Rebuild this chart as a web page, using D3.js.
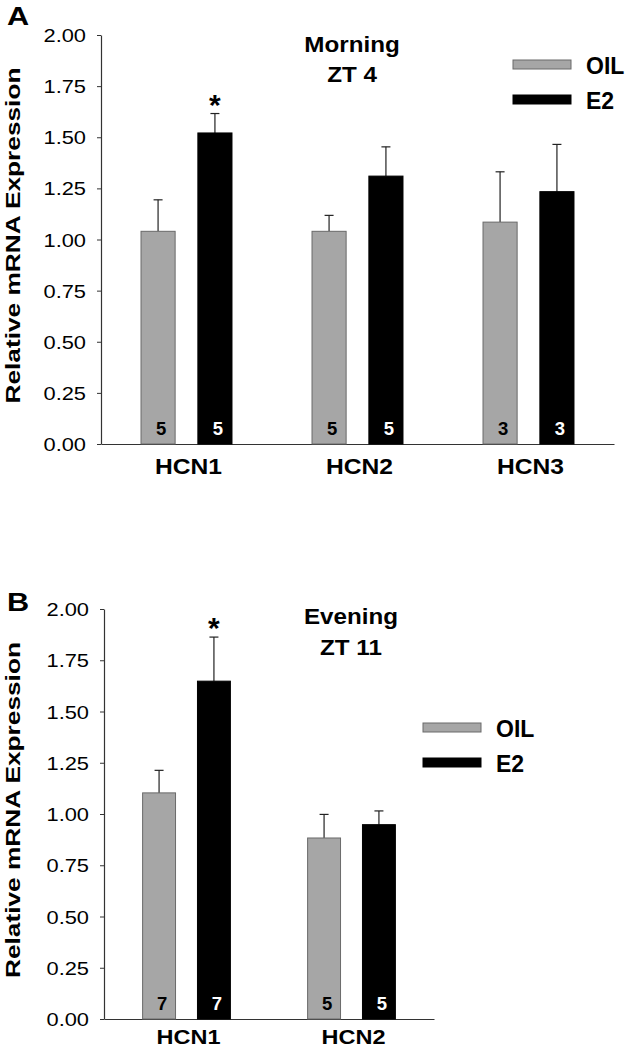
<!DOCTYPE html>
<html><head><meta charset="utf-8">
<script src="https://cdn.jsdelivr.net/npm/d3@7"></script>
<style>body{margin:0;background:#fff}svg{display:block}text{font-family:"Liberation Sans",Arial,sans-serif;fill:#000}</style>
</head><body><svg id="chart" width="628" height="1050"></svg>
<script>
// ---------- data ----------
const series = ["OIL", "E2"];
const yTicks = [0, 0.25, 0.5, 0.75, 1.0, 1.25, 1.5, 1.75, 2.0];

const catsA = ["HCN1", "HCN2", "HCN3"];
const oilA = [1.04, 1.04, 1.085];
const oilErrA = [0.154, 0.078, 0.246];
const e2A = [1.521, 1.31, 1.234];
const e2ErrA = [0.095, 0.143, 0.231];
const nOilA = [5, 5, 3];
const nE2A = [5, 5, 3];
const sigA = ["HCN1"];

const catsB = ["HCN1", "HCN2"];
const oilB = [1.103, 0.883];
const oilErrB = [0.11, 0.115];
const e2B = [1.648, 0.948];
const e2ErrB = [0.215, 0.067];
const nOilB = [7, 5];
const nE2B = [7, 5];
const sigB = ["HCN1"];

const yLabel = "Relative mRNA Expression";

// ---------- drawing ----------
const svg = d3.select("#chart");
const colors = {OIL: "#a6a6a6", E2: "#000000"};
const strokes = {OIL: "#6a6a6a", E2: "#000000"};

function stretchedText(parent, x, y, str, opts) {
  const g = parent.append("g")
    .attr("transform", `translate(${x},${y})` + (opts.rotate ? ` rotate(${opts.rotate})` : "") + ` scale(${opts.sx || 1},1)`);
  return g.append("text").text(str)
    .attr("font-size", opts.size)
    .attr("font-weight", opts.bold ? "bold" : "normal")
    .attr("text-anchor", opts.anchor || "start")
    .style("fill", opts.fill || "#000");
}

function panel(p) {
  const g = svg.append("g");
  const x0 = d3.scaleBand().domain(p.cats).range([p.x0, p.x1]);
  const y = d3.scaleLinear().domain([0, 2]).range([p.yBottom, p.yTop]);
  const bw = x0.bandwidth();
  const x1 = d3.scaleBand().domain(series).range([bw * 0.234, bw * 0.766]).paddingInner(0.4);

  // y axis
  const yAxis = d3.axisLeft(y).tickValues(yTicks).tickSize(4).tickSizeOuter(0).tickFormat(() => "");
  const ya = g.append("g").attr("transform", `translate(${p.x0},0)`).call(yAxis);
  ya.select(".domain").attr("stroke", "#333").attr("stroke-width", 1.2);
  ya.selectAll(".tick line").attr("stroke", "#333");
  yTicks.forEach(t => {
    stretchedText(g, p.x0 - 15, y(t) + 7, d3.format(".2f")(t), {size: 19, sx: 1.15, anchor: "end"});
  });

  // x axis
  const xAxis = d3.axisBottom(x0).tickSize(0).tickSizeOuter(0).tickFormat(() => "");
  const xa = g.append("g").attr("transform", `translate(0,${p.yBottom})`).call(xAxis);
  xa.select(".domain").attr("stroke", "#333").attr("stroke-width", 1.2);
  p.cats.forEach(c => {
    stretchedText(g, x0(c) + bw / 2 + 2, p.yBottom + p.xLabelDy, c, {size: p.xLabelSize, bold: true, sx: 1.12, anchor: "middle"});
  });

  // bars
  const rows = [];
  p.cats.forEach((c, i) => {
    rows.push({cat: c, s: "OIL", v: p.oil[i], e: p.oilErr[i], n: p.nOil[i]});
    rows.push({cat: c, s: "E2", v: p.e2[i], e: p.e2Err[i], n: p.nE2[i]});
  });
  const bx = d => x0(d.cat) + x1(d.s);
  const bwid = x1.bandwidth();

  // error bars
  const eb = g.append("g").attr("stroke", "#222").attr("stroke-width", 1.2);
  rows.forEach(d => {
    const cx = bx(d) + bwid / 2;
    eb.append("line").attr("x1", cx).attr("x2", cx).attr("y1", y(d.v)).attr("y2", y(d.v + d.e));
    eb.append("line").attr("x1", cx - 4.5).attr("x2", cx + 4.5).attr("y1", y(d.v + d.e)).attr("y2", y(d.v + d.e));
  });

  g.append("g").selectAll("rect").data(rows).join("rect")
    .attr("x", bx).attr("y", d => y(d.v))
    .attr("width", bwid).attr("height", d => y(0) - y(d.v))
    .attr("fill", d => colors[d.s]).attr("stroke", d => strokes[d.s]).attr("stroke-width", 1);

  rows.forEach(d => {
    stretchedText(g, bx(d) + bwid / 2 + 3, p.yBottom - 9, String(d.n),
      {size: 18.5, bold: true, anchor: "middle", fill: d.s === "E2" ? "#fff" : "#000"});
  });

  // significance
  rows.filter(d => d.s === "E2" && p.sig.includes(d.cat)).forEach(d => {
    stretchedText(g, bx(d) + bwid / 2, y(d.v + d.e) + 1, "*", {size: 30, bold: true, anchor: "middle"});
  });

  // titles
  stretchedText(g, p.titleX, p.titleY1, p.title1, {size: 22, bold: true, sx: 1.1, anchor: "middle"});
  stretchedText(g, p.titleX, p.titleY2, p.title2, {size: 22, bold: true, sx: 1.1, anchor: "middle"});

  // panel letter
  stretchedText(g, 7, p.letterY, p.letter, {size: 26, bold: true, sx: 1.18});

  // y label
  stretchedText(g, 20, (p.yTop + p.yBottom) / 2 - 4, yLabel, {size: 21, bold: true, sx: 1.25, anchor: "middle", rotate: -90});

  // legend
  series.forEach((s, i) => {
    const cy = p.legY + i * 35;
    g.append("rect").attr("x", p.legX).attr("y", cy - 4.5).attr("width", 58).attr("height", 9)
      .attr("fill", colors[s]).attr("stroke", strokes[s]).attr("stroke-width", 1);
    stretchedText(g, p.legX + 73, cy + 9.5, s, {size: 23, bold: true});
  });
}

panel({cats: catsA, oil: oilA, oilErr: oilErrA, e2: e2A, e2Err: e2ErrA, nOil: nOilA, nE2: nE2A, sig: sigA,
  x0: 101, x1: 614, yTop: 35, yBottom: 444, xLabelDy: 30, xLabelSize: 22,
  title1: "Morning", title2: "ZT 4", titleX: 352, titleY1: 52, titleY2: 82,
  letter: "A", letterY: 25, legX: 513, legY: 64.5});

panel({cats: catsB, oil: oilB, oilErr: oilErrB, e2: e2B, e2Err: e2ErrB, nOil: nOilB, nE2: nE2B, sig: sigB,
  x0: 104, x1: 434, yTop: 609, yBottom: 1019, xLabelDy: 25, xLabelSize: 21,
  title1: "Evening", title2: "ZT 11", titleX: 351, titleY1: 624, titleY2: 655,
  letter: "B", letterY: 611, legX: 423, legY: 727.5});
</script></body></html>
